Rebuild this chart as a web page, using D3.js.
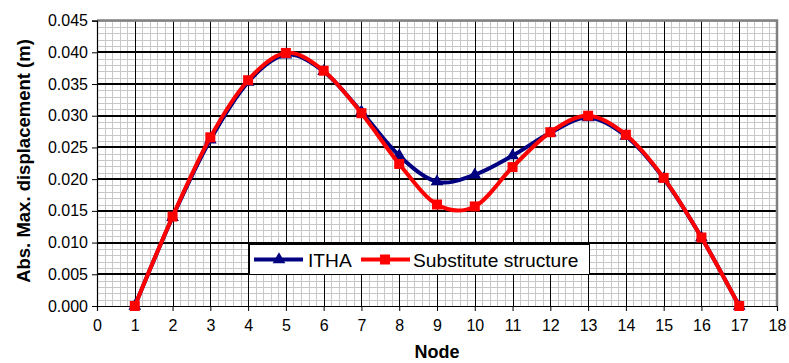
<!DOCTYPE html>
<html>
<head>
<meta charset="utf-8">
<script src="https://cdn.jsdelivr.net/npm/d3@7"></script>
<style>
  html, body { margin: 0; padding: 0; background: #fff; }
  svg { display: block; font-family: Arial, "Liberation Sans", sans-serif; }
</style>
</head>
<body>
<svg id="chart" width="789" height="363"></svg>
<script>
// Nodes along the structure
const nodes = [1, 2, 3, 4, 5, 6, 7, 8, 9, 10, 11, 12, 13, 14, 15, 16, 17];
// Absolute maximum displacement (m) per node
const itha = [0.0, 0.0140, 0.0262, 0.0353, 0.0396, 0.0370, 0.0306, 0.0237, 0.0196, 0.0207, 0.0237, 0.0273, 0.0297, 0.0268, 0.0201, 0.0108, 0.0];
const substitute = [0.0, 0.0141, 0.0266, 0.0356, 0.0399, 0.0371, 0.0304, 0.0224, 0.0160, 0.0157, 0.0219, 0.0274, 0.0300, 0.0270, 0.0202, 0.0108, 0.0];
const xTicks = d3.range(0, 19, 1);
const yTicks = [0.000, 0.005, 0.010, 0.015, 0.020, 0.025, 0.030, 0.035, 0.040, 0.045];
const seriesNames = ["ITHA", "Substitute structure"];

const svg = d3.select("#chart");
const pL = 97, pR = 777, pT = 20.6, pB = 306;

const x = d3.scaleLinear().domain([0, 18]).range([pL, pR]);
const y = d3.scaleLinear().domain([0, 0.045]).range([pB, pT]);

// minor grid
const g = svg.append("g");
const minorX = d3.range(0, 18.001, 0.2);
const minorY = d3.range(0, 0.04501, 0.001);
g.selectAll(".mx").data(minorX).join("line")
  .attr("x1", d => Math.round(x(d)) + 0.5).attr("x2", d => Math.round(x(d)) + 0.5)
  .attr("y1", pT).attr("y2", pB)
  .attr("stroke", "#c8c8c8").attr("stroke-width", 1);
g.selectAll(".my").data(minorY).join("line")
  .attr("y1", d => Math.round(y(d)) + 0.5).attr("y2", d => Math.round(y(d)) + 0.5)
  .attr("x1", pL).attr("x2", pR)
  .attr("stroke", "#c8c8c8").attr("stroke-width", 1);

// major grid
g.selectAll(".Mx").data(xTicks.slice(1, -1)).join("line")
  .attr("x1", d => Math.round(x(d)) + 0.5).attr("x2", d => Math.round(x(d)) + 0.5)
  .attr("y1", pT).attr("y2", pB)
  .attr("stroke", "#000").attr("stroke-width", 1);
g.selectAll(".My").data(yTicks.slice(1, -1)).join("line")
  .attr("y1", d => Math.round(y(d))).attr("y2", d => Math.round(y(d)))
  .attr("x1", pL).attr("x2", pR)
  .attr("stroke", "#000").attr("stroke-width", 2);

// plot frame: grey top & right
svg.append("path")
  .attr("d", `M${pL},${pT} H${pR} V${pB}`)
  .attr("fill", "none").attr("stroke", "#808080").attr("stroke-width", 2.5);

// axes
const xAxis = d3.axisBottom(x).tickValues(xTicks).tickSize(5).tickPadding(9).tickFormat(d3.format("d"));
const yAxis = d3.axisLeft(y).tickValues(yTicks).tickSize(5).tickPadding(4).tickFormat(d3.format(".3f"));

const gx = svg.append("g").attr("transform", `translate(0,${pB})`).call(xAxis);
const gy = svg.append("g").attr("transform", `translate(${pL},0)`).call(yAxis);
[gx, gy].forEach(a => {
  a.select(".domain").attr("stroke", "#000").attr("stroke-width", 1.2);
  a.selectAll(".tick line").attr("stroke", "#000");
  a.selectAll("text").attr("font-size", 16).attr("fill", "#000")
    .attr("font-family", "Arial, 'Liberation Sans', sans-serif");
});

// axis titles
svg.append("text").attr("x", (pL + pR) / 2).attr("y", 358)
  .attr("text-anchor", "middle").attr("font-weight", "bold").attr("font-size", 18).text("Node");
svg.append("text").attr("transform", `translate(30,${(32 + 290) / 2}) rotate(-90)`)
  .attr("text-anchor", "middle").attr("font-weight", "bold").attr("font-size", 18.5)
  .text("Abs. Max. displacement (m)");

// series
const line = d3.line().x((d, i) => x(nodes[i])).y(d => y(d)).curve(d3.curveCardinal.tension(0));
const tri = d3.symbol().type(d3.symbolTriangle).size(70);
const sq = d3.symbol().type(d3.symbolSquare).size(100);

svg.append("path").datum(itha).attr("d", line)
  .attr("fill", "none").attr("stroke", "#000080").attr("stroke-width", 4);
svg.selectAll(".tri").data(itha).join("path")
  .attr("transform", (d, i) => `translate(${x(nodes[i])},${y(d)})`)
  .attr("d", tri).attr("fill", "#000080");

svg.append("path").datum(substitute).attr("d", line)
  .attr("fill", "none").attr("stroke", "#ff0000").attr("stroke-width", 4);
svg.selectAll(".sq").data(substitute).join("path")
  .attr("transform", (d, i) => `translate(${x(nodes[i])},${y(d)})`)
  .attr("d", sq).attr("fill", "#ff0000");

// legend
const lg = svg.append("g");
lg.append("rect").attr("x", 249.5).attr("y", 244.5).attr("width", 340).attr("height", 30)
  .attr("fill", "#fff").attr("stroke", "#000").attr("stroke-width", 1);
const ly = 259.5;
lg.append("line").attr("x1", 254).attr("x2", 303).attr("y1", ly).attr("y2", ly)
  .attr("stroke", "#000080").attr("stroke-width", 4);
lg.append("path").attr("transform", `translate(279,${ly})`).attr("d", tri).attr("fill", "#000080");
lg.append("text").attr("x", 308).attr("y", ly + 7).attr("font-size", 19.2).text(seriesNames[0]);
lg.append("line").attr("x1", 361).attr("x2", 410).attr("y1", ly).attr("y2", ly)
  .attr("stroke", "#ff0000").attr("stroke-width", 4);
lg.append("path").attr("transform", `translate(385,${ly})`).attr("d", sq).attr("fill", "#ff0000");
lg.append("text").attr("x", 413).attr("y", ly + 7).attr("font-size", 19.2).text(seriesNames[1]);
</script>
</body>
</html>
